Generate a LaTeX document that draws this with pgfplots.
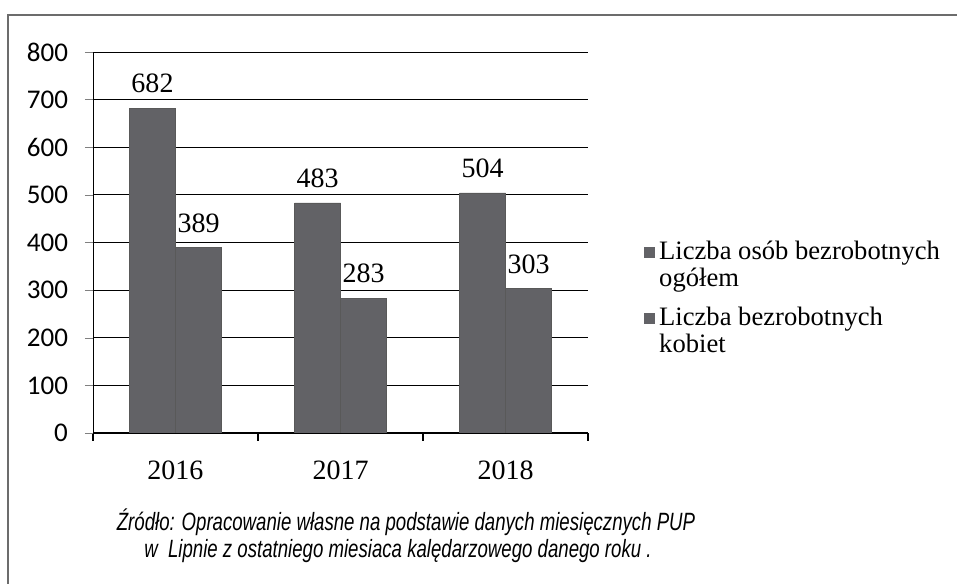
\documentclass[border=0pt]{standalone}
\usepackage{pgfplots}
\pgfplotsset{compat=1.18}
\usepackage{fontspec}
\setmainfont{Liberation Serif}
\newfontfamily\capfont[FakeStretch=0.745]{Liberation Sans}
\newfontfamily\tickfont{Carlito}
\definecolor{barfill}{RGB}{98,98,102}
\begin{document}
\begin{tikzpicture}
\useasboundingbox (0,0) rectangle (478.5pt,291.5pt);
\draw[gray!85!black, line width=0.8pt] (4pt,-20pt) rectangle (500pt,284pt);
\begin{axis}[
  at={(46.5pt,75pt)}, anchor=south west,
  scale only axis, width=247.5pt, height=190.5pt,
  ybar=0pt, bar width=23pt,
  xmin=-0.5, xmax=2.5, ymin=0, ymax=800,
  xtick={0,1,2}, xticklabels={2016,2017,2018},
  minor xtick={-0.5,0.5,1.5,2.5},
  ytick={0,100,...,800},
  axis x line*=bottom, axis y line*=left,
  x axis line style={-}, y axis line style={-},
  tick align=outside,
  major x tick style={draw=none},
  minor x tick style={draw=black, line width=0.6pt},
  minor tick length=4pt,
  major tick length=4pt,
  ymajorgrids, grid style={black, line width=0.5pt},
  font=\fontsize{14}{16}\selectfont,
  /pgf/number format/assume math mode=true,
  xticklabel style={yshift=-6.5pt},
  yticklabel style={font=\tickfont\fontsize{13.5}{15}\selectfont, xshift=-5pt},
  nodes near coords,
  nodes near coords style={font=\fontsize{14}{16}\selectfont, yshift=4pt},
  legend style={at={(1,0.354)}, anchor=west, xshift=25pt, draw=none,
    font=\fontsize{13.3}{13.5}\selectfont, cells={align=left}, row sep=5pt},
  legend cell align=left,
  legend image code/.code={\fill[barfill] (0.5pt,4pt) rectangle (5.5pt,9pt);},
]
\addplot[fill=barfill, draw=black!65] coordinates {(0,682) (1,483) (2,504)};
\addlegendentry{Liczba osób bezrobotnych\\ogółem}
\addplot[fill=barfill, draw=black!65] coordinates {(0,389) (1,283) (2,303)};
\addlegendentry{Liczba bezrobotnych\\kobiet}
\end{axis}
\node[font=\capfont\itshape\fontsize{12.5}{14}\selectfont] at (203pt,30.5pt) {Źródło: Opracowanie własne na podstawie danych miesięcznych PUP};
\node[font=\capfont\itshape\fontsize{12.5}{14}\selectfont] at (199pt,16pt) {w\ \ Lipnie z ostatniego miesiaca kalędarzowego danego roku .};
\end{tikzpicture}
\end{document}
